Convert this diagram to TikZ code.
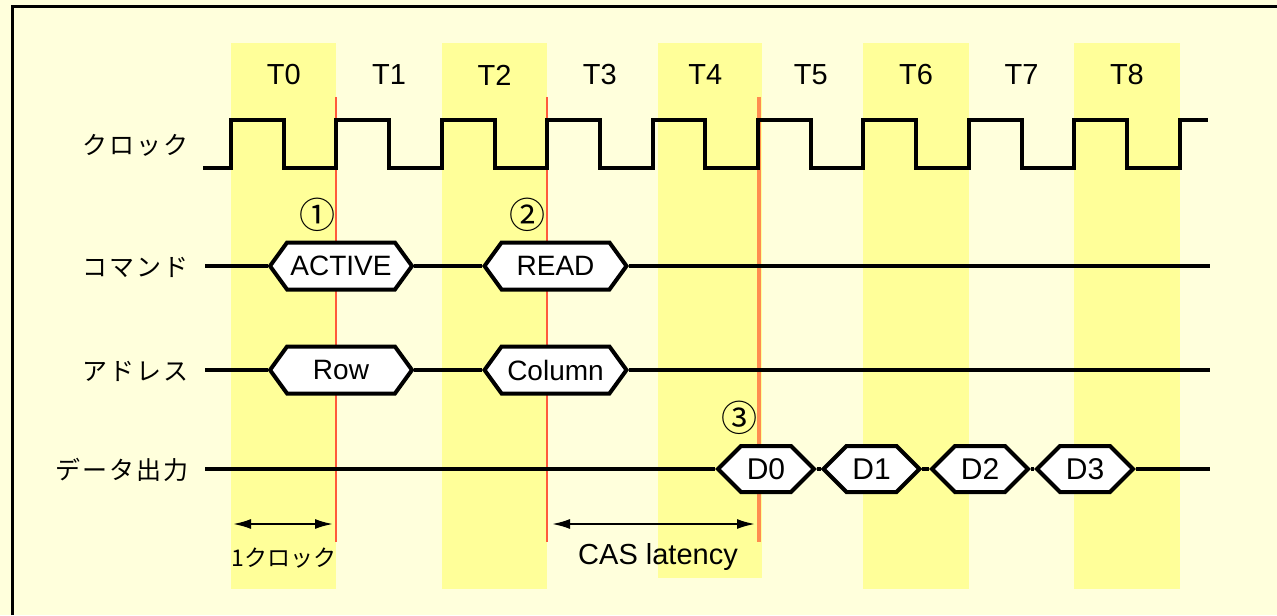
\documentclass[tikz,border=0pt]{standalone}
\usepackage{fontspec}
\setmainfont{Liberation Sans}
\newfontfamily\jpfont{Noto Sans CJK JP}
\newfontfamily\jpwide[LetterSpace=8]{Noto Sans CJK JP}
\usetikzlibrary{shapes.symbols,arrows.meta}
\definecolor{paper}{HTML}{FFFFDC}
\definecolor{band}{HTML}{FFFF99}
\definecolor{edgeA}{HTML}{FF5A3C}
\definecolor{edgeB}{HTML}{FF8C50}

\begin{document}
\begin{tikzpicture}[x=0.5pt, y=-0.5pt, >={Latex[length=9pt,width=5pt]},
    sig/.style={line width=2pt},
    hexcmd/.style={shape=signal, signal to=west and east, signal pointer angle=108,
      draw, line width=2pt, fill=white, minimum width=71pt, minimum height=23.5pt,
      inner sep=0pt, font=\fontsize{14}{16}\selectfont},
    hexdat/.style={hexcmd, signal pointer angle=90, minimum width=48pt,
      minimum height=23pt, font=\fontsize{15}{17}\selectfont},
    rowlabel/.style={anchor=east, font=\jpwide\fontsize{12.5}{15}\selectfont},
    tlabel/.style={font=\fontsize{14.5}{17}\selectfont},
    stepmark/.style={font=\jpfont\fontsize{18}{20}\selectfont}]
    \fill[paper] (0,0) rectangle (1277,615);
    \useasboundingbox (0,0) rectangle (1277,615);

    % clock bands
    \foreach \k in {0,2,6,8}
      \fill[band] ({231+105.4*\k},43) rectangle ({231+105.4*(\k+1)},589);
    \fill[band] (658,43) rectangle (762,578);

    % frame
    \draw[line width=1.5pt] (12,615) -- (12,7) -- (1277,7);

    % edges
    \draw[edgeA, line width=1pt] (336,97) -- (336,542);
    \draw[edgeA, line width=1pt] (547,97) -- (547,542);
    \draw[edgeB, line width=2pt] (759,97) -- (759,542);

    % cycle names
    \foreach \k in {0,...,8}
      \node[tlabel] (t\k) at ({231+105.4*(\k+0.5)},75) {T\k};

    % signal names
    \node[rowlabel] (lclk) at (196,145) {クロック};
    \node[rowlabel] (lcmd) at (196,267) {コマンド};
    \node[rowlabel] (ladr) at (196,371) {アドレス};
    \node[rowlabel] (ldat) at (196,470) {データ出力};

    % clock
    \draw[sig] (203,168)
      \foreach \k in {0,...,8} {
        -- ({231+105.4*\k},168) -- ({231+105.4*\k},120)
        -- ({283.7+105.4*\k},120) -- ({283.7+105.4*\k},168) }
      -- (1179.6,168) -- (1179.6,120) -- (1208,120);

    % command and address
    \node[hexcmd] (act) at (341,266) {ACTIVE};
    \node[hexcmd] (rd)  at (555.5,266) {READ};
    \node[hexcmd] (row) at (341,370) {Row};
    \node[hexcmd] (col) at (555.5,370) {Column};
    \coordinate (cmd0) at (205,266);
    \coordinate (cmd1) at (1210,266);
    \coordinate (adr0) at (205,370);
    \coordinate (adr1) at (1210,370);
    \draw[sig] (cmd0) -- (act.west) (act.east) -- (rd.west) (rd.east) -- (cmd1);
    \draw[sig] (adr0) -- (row.west) (row.east) -- (col.west) (col.east) -- (adr1);

    % data out
    \node[hexdat] (d0) at (766,469) {D0};
    \node[hexdat] (d1) at (871.5,469) {D1};
    \node[hexdat] (d2) at (980,469) {D2};
    \node[hexdat] (d3) at (1085,469) {D3};
    \coordinate (dat0) at (205,469);
    \coordinate (dat1) at (1210,469);
    \draw[sig] (dat0) -- (d0.west) (d0.east) -- (d1.west) (d1.east) -- (d2.west)
      (d2.east) -- (d3.west) (d3.east) -- (dat1);

    % markers
    \node[stepmark] (m1) at (317,215) {①};
    \node[stepmark] (m2) at (527,215) {②};
    \node[stepmark] (m3) at (739,418) {③};

    % spans
    \coordinate (s0) at (233,524);
    \coordinate (s1) at (333,524);
    \coordinate (s2) at (552,524);
    \coordinate (s3) at (755,524);
    \draw[<->, line width=1pt] (s0) -- (s1);
    \draw[<->, line width=1pt] (s2) -- (s3);
    \node[font=\jpfont\fontsize{11.5}{13}\selectfont] (oneclk) at (284,558) {1クロック};
    \node[tlabel] (cas) at (658,557) {CAS latency};
\end{tikzpicture}
\end{document}
